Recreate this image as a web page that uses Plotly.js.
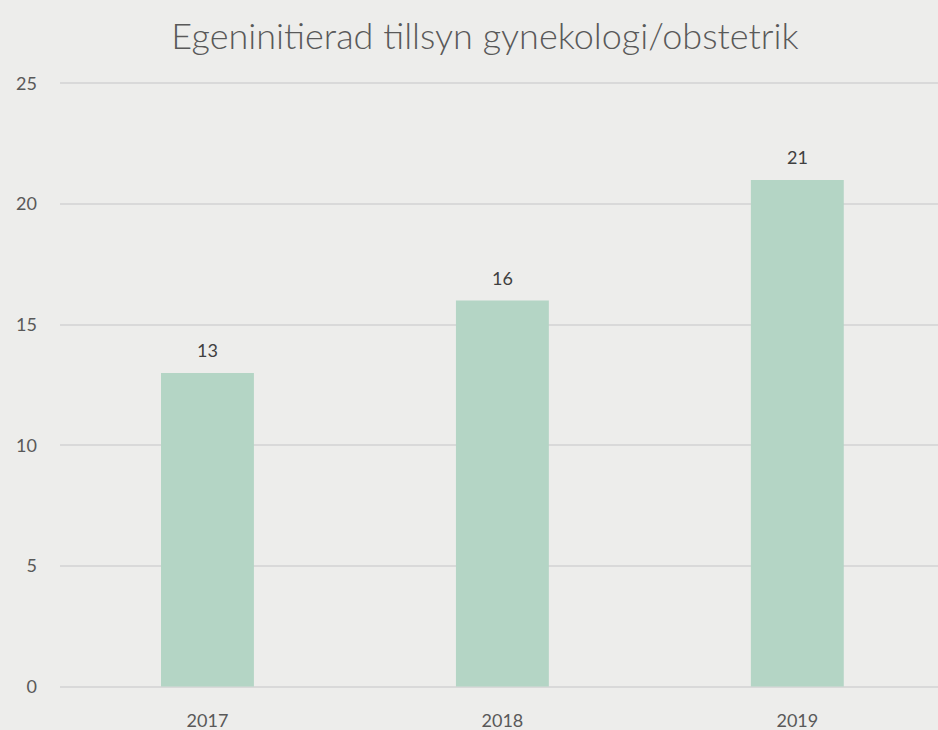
<!DOCTYPE html>
<html>
<head>
<meta charset="utf-8">
<script src="https://cdn.plot.ly/plotly-3.0.1.min.js"></script>
<style>html,body{margin:0;padding:0;background:#EDEDEB;overflow:hidden}</style>
</head>
<body>
<div id="chart" style="width:938px;height:730px"></div>
<script>
const years = ['2017', '2018', '2019'];
const counts = [13, 16, 21];
const yTicks = [0, 5, 10, 15, 20, 25];

const trace = {
  type: 'bar',
  x: years,
  y: counts,
  marker: {color: '#B4D5C5'},
  hoverinfo: 'x+y'
};

const annotations = years.map((yr, i) => ({
  x: i, y: counts[i], xref: 'x', yref: 'y',
  text: String(counts[i]), showarrow: false,
  xanchor: 'center', yanchor: 'bottom', yshift: 10,
  font: {family: 'Lato, sans-serif', size: 18, color: '#404040'}
}));

const layout = {
  width: 938, height: 730,
  paper_bgcolor: '#EDEDEB', plot_bgcolor: '#EDEDEB',
  margin: {l: 60, r: 0, t: 81, b: 41},
  title: {text: 'Egeninitierad tillsyn gynekologi/obstetrik', x: 0.517, xanchor: 'center', y: 0.95, yanchor: 'middle',
          font: {family: 'Lato, sans-serif', size: 36, weight: 300, color: '#595959'}},
  bargap: 0.685,
  showlegend: false,
  xaxis: {type: 'category', range: [-0.5, 2.477], showgrid: false, zeroline: false, showline: false,
          ticks: '', ticklabelstandoff: 19, tickfont: {family: 'Lato, sans-serif', size: 18, color: '#595959'}},
  yaxis: {range: [-0.1, 25.1], tickvals: yTicks, showgrid: true, gridcolor: '#D9D9D9', gridwidth: 2,
          zeroline: false, showline: false, ticks: '', ticklabelstandoff: 22,
          tickfont: {family: 'Lato, sans-serif', size: 18, color: '#595959'}},
  annotations: annotations
};

Plotly.newPlot('chart', [trace], layout, {displayModeBar: false, staticPlot: true});
</script>
</body>
</html>
